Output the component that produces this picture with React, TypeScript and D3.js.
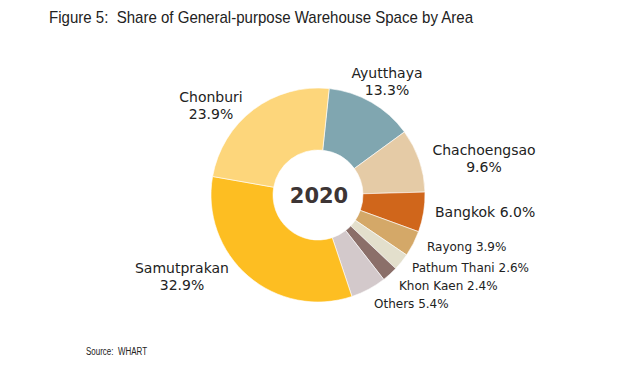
import React from "react";
import * as d3 from "d3";

const categories = ["Ayutthaya", "Chachoengsao", "Bangkok", "Rayong", "Pathum Thani", "Khon Kaen", "Others", "Samutprakan", "Chonburi"];
const values = [13.3, 9.6, 6.0, 3.9, 2.6, 2.4, 5.4, 32.9, 23.9];
const colors = ["#80a6b0", "#e5cba6", "#d0661b", "#d4a868", "#e3dfcc", "#8b6f69", "#d3c9cb", "#fdbe22", "#fdd67b"];
const title = "Figure 5:  Share of General-purpose Warehouse Space by Area";
const centerLabel = "2020";
const source = "Source:  WHART";

type Lab = { lines: string[]; x: number; y: number; anchor: string; size: number };
const labels: Lab[] = [
  { lines: ["Ayutthaya", "13.3%"], x: 387, y: 78, anchor: "middle", size: 14 },
  { lines: ["Chachoengsao", "9.6%"], x: 484, y: 155, anchor: "middle", size: 14 },
  { lines: ["Bangkok 6.0%"], x: 435, y: 217, anchor: "start", size: 14 },
  { lines: ["Rayong 3.9%"], x: 427, y: 251, anchor: "start", size: 12 },
  { lines: ["Pathum Thani 2.6%"], x: 412, y: 272, anchor: "start", size: 12 },
  { lines: ["Khon Kaen 2.4%"], x: 399, y: 290, anchor: "start", size: 12 },
  { lines: ["Others 5.4%"], x: 374, y: 308, anchor: "start", size: 12 },
  { lines: ["Samutprakan", "32.9%"], x: 182, y: 273, anchor: "middle", size: 14 },
  { lines: ["Chonburi", "23.9%"], x: 211, y: 102, anchor: "middle", size: 14 },
];

export default function App() {
  const W = 641, H = 366;
  const cx = 318, cy = 195, rOuter = 107, rInner = 45;
  const startA = (6 * Math.PI) / 180;
  const pie = d3.pie<number>().sort(null).startAngle(startA).endAngle(startA + 2 * Math.PI);
  const arcs = pie(values);
  const arc = d3.arc<d3.PieArcDatum<number>>().innerRadius(rInner).outerRadius(rOuter);
  const font = "'DejaVu Sans', sans-serif";
  return (
    <svg width={W} height={H} style={{ position: "absolute", left: 0, top: 0, background: "#fff", whiteSpace: "pre" }}>
      <text x={261} y={23} textAnchor="middle" fontFamily="'Liberation Sans', Arial, sans-serif" fontSize={17} fill="#222" textLength={424} lengthAdjust="spacingAndGlyphs" style={{ whiteSpace: "pre" }}>
        {title}
      </text>
      <g transform={`translate(${cx},${cy})`}>
        {arcs.map((a, i) => (
          <path key={categories[i]} d={arc(a) || ""} fill={colors[i]} stroke="#fff" strokeWidth={0.6} />
        ))}
        <text x={1} y={8} textAnchor="middle" fontFamily={font} fontWeight="bold" fontSize={21} fill="#3d3535">
          {centerLabel}
        </text>
      </g>
      {labels.map((l) => (
        <text key={l.lines[0]} x={l.x} y={l.y} textAnchor={l.anchor} fontFamily={font} fontSize={l.size} fill="#222">
          {l.lines.map((s, j) => (
            <tspan key={j} x={l.x} dy={j === 0 ? 0 : 17}>{s}</tspan>
          ))}
        </text>
      ))}
      <text x={86} y={355} fontFamily="'Liberation Sans', Arial, sans-serif" fontSize={10} fill="#222" textLength={61} lengthAdjust="spacingAndGlyphs" style={{ whiteSpace: "pre" }}>{source}</text>
    </svg>
  );
}
